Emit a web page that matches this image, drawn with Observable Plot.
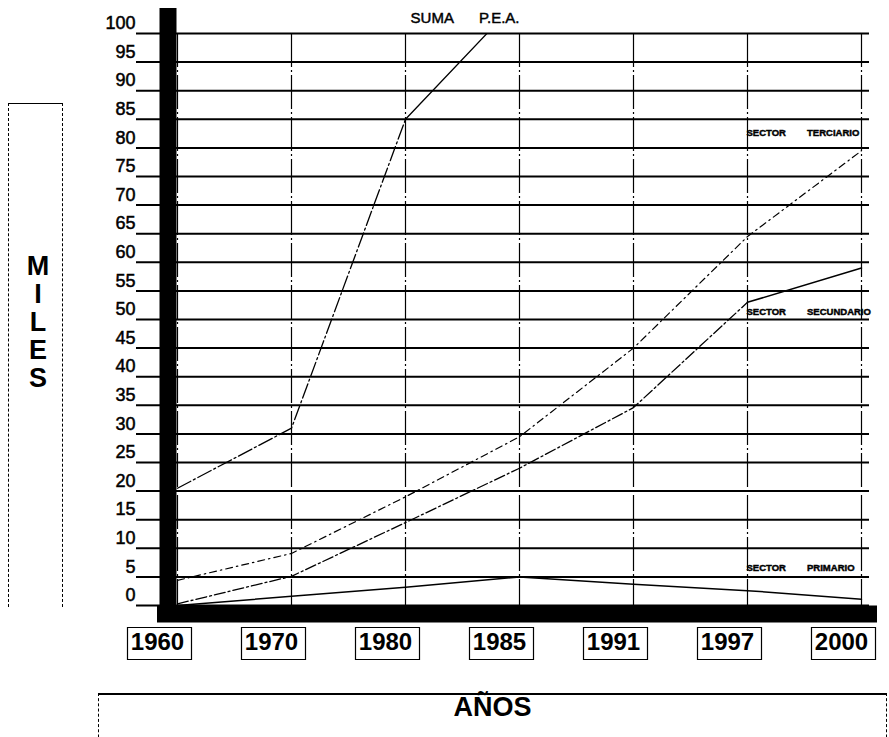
<!DOCTYPE html>
<html>
<head>
<meta charset="utf-8">
<script src="https://cdn.jsdelivr.net/npm/d3@7"></script>
<script src="https://cdn.jsdelivr.net/npm/@observablehq/plot@0.6"></script>
<style>
  body { margin: 0; background: #fff; font-family: "Liberation Sans", Arial, sans-serif; }
  #wrap { position: relative; width: 889px; height: 737px; overflow: hidden; background: #fff; }
  #chart { position: absolute; left: 0; top: 0; }
  #chart g[aria-label="y-axis tick label"] { stroke: #000; stroke-width: 0.5px; }
  #chart g[aria-label="text"] { stroke: #000; stroke-width: 0.45px; }
  #milesBox { position: absolute; left: 8px; top: 103px; width: 55px; height: 504px; box-sizing: border-box;
    border-top: 1.5px solid #000; border-left: 1px dashed #000; border-right: 1px dashed #000; }
  #milesText { position: absolute; left: 22px; top: 252px; width: 32px; text-align: center;
    font: bold 27px/28px "Liberation Sans", Arial, sans-serif; color: #000; }
  #anosBox { position: absolute; left: 98px; top: 693px; width: 789px; height: 60px; box-sizing: border-box;
    border-top: 2px solid #000; border-left: 1px dashed #000; border-right: 1px dashed #000; }
  #anosText { position: absolute; left: 0; right: 0; top: -3px; text-align: center;
    font: bold 27px/30px "Liberation Sans", Arial, sans-serif; color: #000; }
</style>
</head>
<body>
<div id="wrap">
  <div id="chart"></div>
  <div id="milesBox"></div>
  <div id="milesText">M<br>I<br>L<br>E<br>S</div>
  <div id="anosBox"><div id="anosText">AÑOS</div></div>
</div>
<script>
// ---- data ----
const years = ["1960", "1970", "1980", "1985", "1991", "1997", "2000"];
const yTicks = [0, 5, 10, 15, 20, 25, 30, 35, 40, 45, 50, 55, 60, 65, 70, 75, 80, 85, 90, 95, 100];
const sumaPEA = [20.5, 31, 85, 106];               // 1960..1985 (runs off the top)
const sectorPrimario = [0, 1.6, 3.2, 5, 3.7, 2.6, 1.1];
const sectorSecundario = [0.3, 5.1, 14.5, 24, 34.6, 53, 59];
const sectorTerciario = [4.4, 9.1, 19, 29.5, 45, 64.5, 79.5];
const labelNames = ["SUMA P.E.A.", "SECTOR TERCIARIO", "SECTOR SECUNDARIO", "SECTOR PRIMARIO"];
const labelYears = ["1985", "1997", "1997", "1997"];
const labelValues = [100, 82.7, 51.4, 6.5];

// ---- tables built from the arrays ----
const toRows = (vals) => vals.map((v, i) => ({year: years[i], value: v}));
const suma = toRows(sumaPEA);
const prim = toRows(sectorPrimario);
const secu = toRows(sectorSecundario);
const terc = toRows(sectorTerciario);
const gap = (n) => "\u00a0".repeat(n);
const labelsRows = labelNames.map((t, i) => ({text: t, year: labelYears[i], value: labelValues[i]}));

const boxSymbol = {
  draw(context) {
    context.moveTo(-32, -16); context.lineTo(32, -16); context.lineTo(32, 16); context.lineTo(-32, 16); context.closePath();
  }
};

const ink = "#000";
const plot = Plot.plot({
  width: 889,
  height: 665,
  marginTop: 33,
  marginBottom: 60,
  marginLeft: 136,
  marginRight: 20,
  style: {fontFamily: "'Liberation Sans', Arial, sans-serif", background: "#fff", overflow: "visible", color: ink},
  x: {type: "point", domain: years, padding: 0, insetLeft: 39, insetRight: 7, label: null},
  y: {domain: [0, 100], label: null},
  marks: [
    // horizontal grid
    Plot.ruleY(yTicks, {stroke: ink, strokeWidth: 2}),
    // vertical grid
    Plot.ruleX(years, {stroke: ink, strokeWidth: 1.2, strokeDasharray: "34,3,2,3"}),
    // series
    Plot.line(terc, {x: "year", y: "value", stroke: ink, strokeWidth: 1.2, strokeDasharray: "7,4,1.5,4"}),
    Plot.line(secu.slice(0, 6), {x: "year", y: "value", stroke: ink, strokeWidth: 1.3, strokeDasharray: "11,3,2,3"}),
    Plot.line(secu.slice(5), {x: "year", y: "value", stroke: ink, strokeWidth: 1.5}),
    Plot.line(prim, {x: "year", y: "value", stroke: ink, strokeWidth: 1.5}),
    Plot.line(suma.slice(0, 3), {x: "year", y: "value", stroke: ink, strokeWidth: 1.3, strokeDasharray: "15,3,2,3"}),
    Plot.line(suma.slice(2), {x: "year", y: "value", stroke: ink, strokeWidth: 1.3, clip: "frame"}),
    // heavy black axes bars
    Plot.ruleX([years[0]], {stroke: ink, strokeWidth: 17, dx: -9.5, insetTop: -25, insetBottom: -17}),
    Plot.ruleY([0], {stroke: ink, strokeWidth: 17, dy: 8.5, insetLeft: 21, insetRight: -8}),
    // y axis labels
    Plot.axisY(yTicks, {anchor: "left", tickSize: 0, tickPadding: 1, dy: -10, fontSize: 18, label: null}),
    // x axis labels with boxes
    Plot.axisX({anchor: "bottom", tickSize: 0, tickPadding: 3, dx: -20, dy: 24, fontSize: 24, fontWeight: "bold", label: null}),
    Plot.dot(years, {x: (d) => d, y: () => 0, symbol: boxSymbol, fill: "none", stroke: ink, strokeWidth: 1.2, dx: -18, dy: 38}),
    // series labels
    Plot.text(labelsRows.slice(0, 1), {x: "year", y: "value", text: (d) => d.text.replace(" ", gap(6)), textAnchor: "end", dy: -15, fontSize: 15, fill: ink}),
    Plot.text(labelsRows.slice(1), {x: "year", y: "value", text: (d) => d.text.replace(" ", gap(8)), textAnchor: "start", dx: -1, fontSize: 9.5, fontWeight: "bold", fill: ink})
  ]
});
document.getElementById("chart").appendChild(plot);
</script>
</body>
</html>
